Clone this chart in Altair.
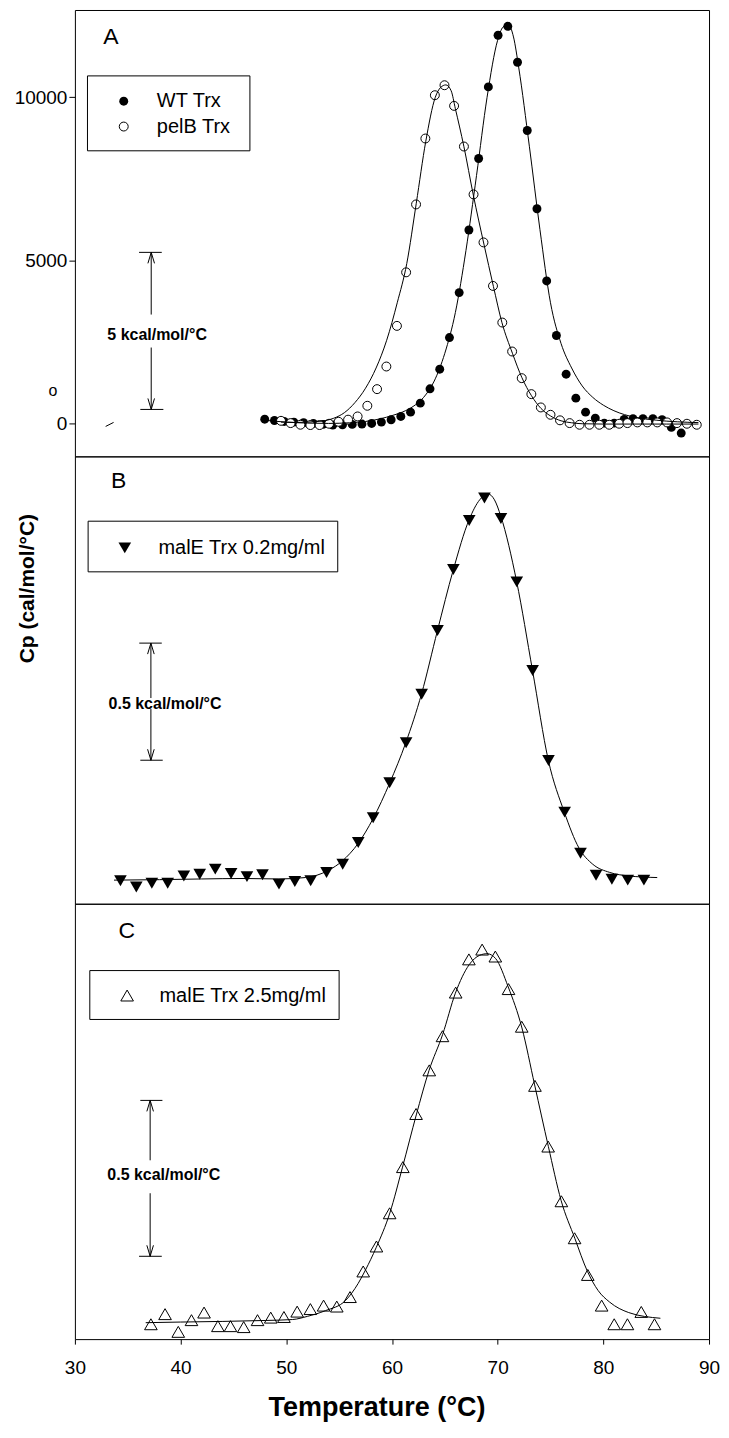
import altair as alt
import pandas as pd

FONT = "Liberation Sans"
X_DOMAIN = [30, 90]
X_TICKS = [30, 40, 50, 60, 70, 80, 90]
A_TICKS = [0, 5000, 10000]

# ---------------- Panel A data ----------------
WT_T = [47.96, 48.88, 49.80, 50.72, 51.64, 52.56, 53.48, 54.40, 55.32, 56.24, 57.16, 58.08,
        59.00, 59.92, 60.84, 61.76, 62.68, 63.60, 64.52, 65.44, 66.36, 67.28, 68.20, 69.12,
        70.04, 70.96, 71.88, 72.80, 73.72, 74.64, 75.56, 76.48, 77.40, 78.32, 79.24, 80.09,
        81.03, 81.97, 82.81, 83.75, 84.69, 85.56, 86.44, 87.37]
WT_CP = [130, 90, 60, 40, 20, 0, -30, -50, -40, -30, -20, 0,
         40, 112, 214, 346, 622, 1062, 1663, 2633, 4011, 5931, 8124, 10319,
         11902, 12177, 11075, 8981, 6583, 4369, 2695, 1510, 775, 346, 163, 10,
         10, 120, 143, 143, 143, 113, -122, -296]

PELB_T = [49.50, 50.41, 51.34, 52.28, 53.15, 54.05, 54.95, 55.85, 56.75, 57.67, 58.59,
          59.47, 60.47, 61.34, 62.28, 63.16, 64.06, 64.97, 65.88, 66.81, 67.72, 68.66,
          69.56, 70.44, 71.37, 72.28, 73.19, 74.09, 75.00, 75.90, 76.81, 77.75, 78.69,
          79.62, 80.56, 81.50, 82.28, 83.22, 84.16, 85.10, 86.03, 86.97, 87.91, 88.84]
PELB_CP = [80, 10, -40, -50, -50, -10, 50, 115, 214, 541, 1051,
           1745, 2991, 4633, 6715, 8736, 10064, 10370, 9737, 8491, 7022, 5551,
           4216, 3093, 2205, 1388, 898, 490, 265, 95, 10, -41, -41,
           -41, -41, -10, 10, 31, 31, 31, 31, 10, -10, -41]

WT_FIT_T = [47.9, 50, 52, 54, 56, 57.5, 59, 60, 61, 62, 63, 64, 65, 66, 67, 68, 69, 70,
            70.5, 71.0, 71.5, 72, 73, 74, 75, 76, 77, 78, 79, 80, 81, 82, 83, 84, 85, 86,
            87, 88, 89]
WT_FIT_CP = [100, 40, 10, 0, 20, 60, 150, 240, 350, 520, 800, 1300, 2150, 3400, 5300, 7600,
             10000, 11750, 12150, 12230, 11850, 10900, 8500, 5950, 3700, 2450, 1700, 1150,
             800, 560, 390, 270, 190, 135, 100, 70, 50, 35, 25]

PELB_FIT_T = [49.5, 51, 53, 54.5, 55.5, 56.5, 57.5, 58.5, 59.5, 60.5, 61.4, 62.3, 63.2,
              64.1, 64.6, 65.1, 65.6, 66.0, 66.8, 67.7, 68.7, 69.6, 70.4, 71.4, 72.3, 73.2,
              74.1, 75.0, 76.0, 77.0, 78.0, 80, 83, 86, 89]
PELB_FIT_CP = [40, 30, 60, 160, 330, 640, 1080, 1700, 2550, 3700, 4900, 6750, 8650,
               10000, 10300, 10380, 10200, 9650, 8500, 7000, 5500, 4200, 3100, 2150, 1400,
               850, 460, 230, 80, 20, -10, -20, -20, -20, -20]

# ---------------- Panel B data ----------------
B_T = [34.31, 35.81, 37.28, 38.78, 40.31, 41.81, 43.28, 44.78, 46.28, 47.75, 49.31, 50.81,
       52.31, 53.81, 55.34, 56.81, 58.22, 59.78, 61.34, 62.81, 64.31, 65.81, 67.31, 68.75,
       70.31, 71.81, 73.31, 74.81, 76.34, 77.84, 79.31, 80.81, 82.31, 83.84]
B_CP = [0, -26, -10, -10, 21, 28, 50, 31, 18, 26, -14, -3,
        0, 36, 71, 164, 270, 420, 591, 798, 1071, 1332, 1542, 1638,
        1550, 1279, 900, 515, 294, 118, 24, 7, 3, 3]
B_FIT_T = [33.7, 38, 42, 46, 49.3, 51.8, 54, 55.3, 56.8, 58.2, 59.8, 61.3, 62.8, 64.3, 65.8,
           67.3, 68.3, 69.1, 69.7, 70.3, 71.8, 73.3, 74.8, 76.3, 77.7, 79.0, 80.6, 82.4, 85.1]
B_FIT_CP = [3, 5, 8, 10, 8, 14, 45, 85, 160, 265, 420, 590, 800, 1070, 1330,
            1545, 1630, 1655, 1630, 1560, 1280, 900, 515, 295, 140, 71, 36, 21, 14]

# ---------------- Panel C data ----------------
C_T = [37.19, 38.53, 39.78, 41.03, 42.22, 43.53, 44.72, 45.97, 47.28, 48.53, 49.78, 51.03,
       52.28, 53.53, 54.78, 56.03, 57.28, 58.53, 59.78, 61.03, 62.28, 63.53, 64.78, 66.03,
       67.28, 68.53, 69.78, 71.03, 72.28, 73.53, 74.78, 76.03, 77.28, 78.53, 79.84, 81.03,
       82.28, 83.59, 84.84]
C_CP = [-7, 25, -31, 6, 30, -13, -13, -16, 6, 14, 16, 33,
        41, 52, 49, 79, 160, 239, 344, 490, 658, 796, 904, 1042,
        1147, 1178, 1156, 1053, 934, 747, 555, 382, 265, 149, 52, -7,
        -7, 32, -7]
C_FIT_T = [36.7, 40, 44, 48, 50.6, 52, 53.7, 55.6, 56.8, 57.5, 58.5, 59.8, 61, 62.3, 63.5,
           64.8, 66, 67.3, 68.3, 69.0, 69.8, 71.0, 72.3, 73.5, 74.8, 76.0, 77.3, 78.5, 79.5,
           80.6, 82.4, 85.4]
C_FIT_CP = [-2, 0, 2, 5, 8, 18, 36, 68, 122, 165, 235, 345, 490, 655, 795,
            910, 1040, 1130, 1160, 1165, 1150, 1060, 930, 750, 555, 385, 265, 160, 100,
            63, 30, 12]

A_DOMAIN = [-1010, 12677]
B_DOMAIN = [-98, 1816]
C_DOMAIN = [-54, 1323]

UP = "M-0.6,1L0,-1L0.6,1"
DOWN = "M-0.6,-1L0,1L0.6,-1"
PLOT_W = 635


def df(t, v, **extra):
    d = {"T": t, "v": v}
    d.update(extra)
    return pd.DataFrame(d)


def base(data, xaxis, yaxis, ydom):
    return alt.Chart(data).encode(
        x=alt.X("T:Q", scale=alt.Scale(domain=X_DOMAIN, nice=False, zero=False), axis=xaxis),
        y=alt.Y("v:Q", scale=alt.Scale(domain=ydom, nice=False, zero=False), axis=yaxis),
    )


def rules(data, xaxis, yaxis, ydom):
    return base(data, xaxis, yaxis, ydom).mark_rule(color="black", strokeWidth=1).encode(
        x2="T2:Q", y2="v2:Q")


def box(data, xaxis, yaxis, ydom):
    return base(data, xaxis, yaxis, ydom).mark_rect(
        fill="white", stroke="black", strokeWidth=1).encode(x2="T2:Q", y2="v2:Q")


def label(data, xaxis, yaxis, ydom, size, weight="normal", align="left"):
    return base(data, xaxis, yaxis, ydom).mark_text(
        font=FONT, fontSize=size, fontWeight=weight, align=align, baseline="middle",
        color="black").encode(text="txt:N")


def arrows(t, v_up, v_down, xaxis, yaxis, ydom):
    up = base(df([t], [v_up]), xaxis, yaxis, ydom).mark_point(
        shape=UP, filled=False, stroke="black", strokeWidth=1, size=121, opacity=1, yOffset=5.5)
    dn = base(df([t], [v_down]), xaxis, yaxis, ydom).mark_point(
        shape=DOWN, filled=False, stroke="black", strokeWidth=1, size=121, opacity=1, yOffset=-5.5)
    return [up, dn]


def scale_bar(t, x_caps, v_top, v_bot, gap_top, gap_bot, txt_t, txt_v, txt, xaxis, yaxis, ydom):
    caps = df([x_caps[0][0], x_caps[1][0]], [v_top, v_bot],
              T2=[x_caps[0][1], x_caps[1][1]], v2=[v_top, v_bot])
    stem = df([t, t], [v_top, gap_bot], T2=[t, t], v2=[gap_top, v_bot])
    out = [rules(caps, xaxis, yaxis, ydom), rules(stem, xaxis, yaxis, ydom)]
    out += arrows(t, v_top, v_bot, xaxis, yaxis, ydom)
    out.append(label(df([txt_t], [txt_v], txt=[txt]), xaxis, yaxis, ydom, 16, "bold", "center"))
    return out


# ---------------- axes ----------------
axA_y = alt.Axis(values=A_TICKS, format="d", tickSize=6, tickColor="black", tickWidth=1,
                 labelFont=FONT, labelFontSize=19, labelColor="black", labelPadding=2,
                 domain=False, grid=False, title=None)
axB_y = alt.Axis(labels=False, ticks=False, domain=False, grid=False,
                 title="Cp (cal/mol/°C)", titleFont=FONT, titleFontSize=21,
                 titleFontWeight="bold", titleColor="black", titleAngle=270,
                 titleX=-47, titleY=132, titleAlign="center", titleBaseline="middle")
axC_x = alt.Axis(values=X_TICKS, format="d", tickSize=5, tickColor="black", tickWidth=1,
                 labelFont=FONT, labelFontSize=19, labelColor="black", labelPadding=14,
                 labelFlush=False, domain=False, grid=False,
                 title="Temperature (°C)", titleFont=FONT, titleFontSize=27,
                 titleFontWeight="bold", titleColor="black", titleX=302, titleY=76,
                 titleAlign="center", titleBaseline="alphabetic")

CIRCLE = 80
TRI = 160

# ---------------- Panel A ----------------
ax, ay, ad = None, axA_y, A_DOMAIN
A_layers = [
    base(df(WT_T, WT_CP), ax, ay, ad).mark_point(shape="circle", filled=True, color="black",
                                                 size=CIRCLE, opacity=1),
    base(df(PELB_T, PELB_CP), ax, ay, ad).mark_point(shape="circle", filled=True, fill="white",
                                                     stroke="black", strokeWidth=1, size=CIRCLE,
                                                     opacity=1),
    base(df(WT_FIT_T, WT_FIT_CP), ax, ay, ad).mark_line(color="black", strokeWidth=1,
                                                        interpolate="monotone"),
    base(df(PELB_FIT_T, PELB_FIT_CP), ax, ay, ad).mark_line(color="black", strokeWidth=1,
                                                            interpolate="monotone"),
    label(df([33.4], [11850], txt=["A"]), ax, ay, ad, 23, "normal", "center"),
    box(df([31.19], [8359], T2=[46.56], v2=[10656]), ax, ay, ad),
    base(df([34.62], [9881]), ax, ay, ad).mark_point(shape="circle", filled=True,
                                                     color="black", size=CIRCLE, opacity=1),
    base(df([34.62], [9103]), ax, ay, ad).mark_point(shape="circle", filled=True, fill="white",
                                                     stroke="black", strokeWidth=1,
                                                     size=CIRCLE, opacity=1),
    label(df([37.75, 37.75], [9881, 9103], txt=["WT Trx", "pelB Trx"]), ax, ay, ad, 20),
    rules(df([32.91], [-92], T2=[33.66], v2=[31]), ax, ay, ad),
    label(df([27.91], [980], txt=["o"]), ax, ay, ad, 16, "normal", "center"),
] + scale_bar(37.22, [(36.07, 38.22), (36.19, 38.37)], 5245, 429, 3338, 2327,
              37.78, 2725, "5 kcal/mol/°C", ax, ay, ad)
panelA = alt.layer(*A_layers).properties(width=PLOT_W, height=447)

# ---------------- Panel B ----------------
ax, ay, ad = None, axB_y, B_DOMAIN
B_layers = [
    base(df(B_FIT_T, B_FIT_CP), ax, ay, ad).mark_line(color="black", strokeWidth=1,
                                                      interpolate="monotone"),
    base(df(B_T, B_CP), ax, ay, ad).mark_point(shape="triangle-down", filled=True,
                                               color="black", size=TRI, opacity=1),
    label(df([34.15], [1710], txt=["B"]), ax, ay, ad, 23, "normal", "center"),
    box(df([31.25], [1322], T2=[54.87], v2=[1538.6]), ax, ay, ad),
    base(df([34.72], [1424.5]), ax, ay, ad).mark_point(shape="triangle-down", filled=True,
                                                       color="black", size=TRI, opacity=1),
    label(df([37.9], [1424.5], txt=["malE Trx 0.2mg/ml"]), ax, ay, ad, 20),
] + scale_bar(37.19, [(36.09, 38.22), (36.19, 38.31)], 1017, 516, 782, 735,
              38.53, 755, "0.5 kcal/mol/°C", ax, ay, ad)
panelB = alt.layer(*B_layers).properties(width=PLOT_W, height=448)

# ---------------- Panel C ----------------
ax, ay, ad = axC_x, None, C_DOMAIN
C_layers = [
    base(df(C_T, C_CP), ax, ay, ad).mark_point(shape="triangle-up", filled=True, fill="white",
                                               stroke="black", strokeWidth=1, size=TRI,
                                               opacity=1),
    base(df(C_FIT_T, C_FIT_CP), ax, ay, ad).mark_line(color="black", strokeWidth=1,
                                                      interpolate="monotone"),
    label(df([34.9], [1238], txt=["C"]), ax, ay, ad, 23, "normal", "center"),
    box(df([31.41], [957], T2=[55.0], v2=[1111.6]), ax, ay, ad),
    base(df([34.94], [1032.7]), ax, ay, ad).mark_point(shape="triangle-up", filled=True,
                                                       fill="white", stroke="black",
                                                       strokeWidth=1, size=TRI, opacity=1),
    label(df([38.0], [1032.7], txt=["malE Trx 2.5mg/ml"]), ax, ay, ad, 20),
] + scale_bar(37.12, [(36.19, 38.28), (36.07, 38.22)], 701, 208, 511.6, 407.4,
              38.41, 464, "0.5 kcal/mol/°C", ax, ay, ad)
panelC = alt.layer(*C_layers).properties(width=PLOT_W, height=436)

chart = alt.vconcat(panelA, panelB, panelC, spacing=0, bounds="flush").properties(
    padding={"left": 5, "top": 0, "right": 0, "bottom": 0}
).configure_view(stroke="black", strokeWidth=1)

chart.save("out.html", embed_options={"renderer": "svg", "actions": False})
